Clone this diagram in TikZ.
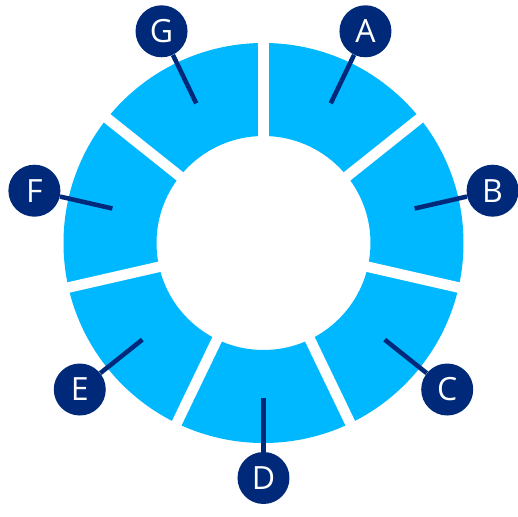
\documentclass[tikz,border=0pt]{standalone}
\usepackage{fontspec}
\setmainfont{Open Sans}
\usepackage{xcolor}
\definecolor{ringblue}{RGB}{0,184,255}
\definecolor{navy}{RGB}{0,41,122}
\tikzset{
    px/.style={x=0.75pt,y=0.75pt},
    tag/.style={
        circle,fill=navy,text=white,
        minimum size=39pt,inner sep=0pt,
        font=\fontsize{24}{24}\selectfont
    },
    stem/.style={draw=navy,line width=3.4pt},
}

\begin{document}
\begin{tikzpicture}[px]
    \useasboundingbox (-263.5,-274) rectangle (254.5,243);
    \fill[ringblue,even odd rule] (0,0) circle (200) (0,0) circle (107);
    \foreach \n in {0,...,6} {
        \pgfmathsetmacro{\a}{90-\n*360/7}
        \draw[white,line width=7.9pt] (\a:100) -- (\a:210);
    }
    \foreach \lab[count=\n] in {A,...,G} {
        \pgfmathsetmacro{\a}{90-(\n-0.5)*360/7}
        \coordinate (pt\lab) at (\a:155);
        \node[tag] (tag\lab) at (\a:235) {\lab};
        \draw[stem] (pt\lab) -- (tag\lab);
    }
\end{tikzpicture}
\end{document}
